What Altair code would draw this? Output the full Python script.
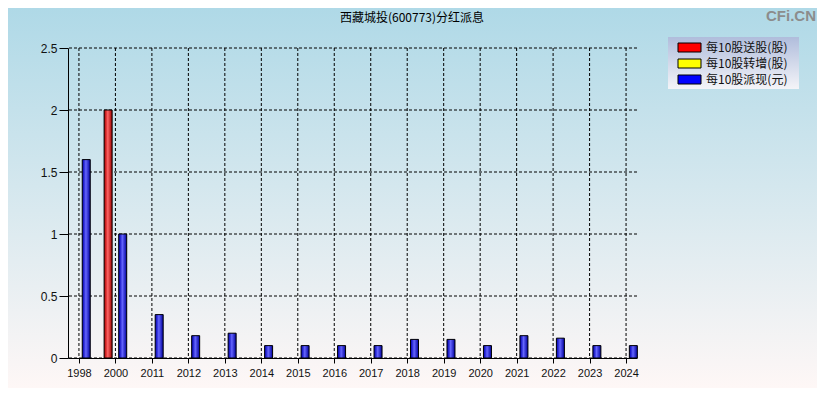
import json
import altair as alt
import pandas as pd

# ---------------- data ----------------
years = ["1998", "2000", "2011", "2012", "2013", "2014", "2015", "2016",
         "2017", "2018", "2019", "2020", "2021", "2022", "2023", "2024"]
song = [0, 2.0, 0, 0, 0, 0, 0, 0, 0, 0, 0, 0, 0, 0, 0, 0]          # 每10股送股
zhuan = [0, 0, 0, 0, 0, 0, 0, 0, 0, 0, 0, 0, 0, 0, 0, 0]           # 每10股转增
pai = [1.6, 1.0, 0.35, 0.18, 0.2, 0.1, 0.1, 0.1,
       0.1, 0.15, 0.15, 0.1, 0.18, 0.16, 0.1, 0.1]                 # 每10股派现
series_names = ["每10股送股(股)", "每10股转增(股)", "每10股派现(元)"]
series_colors = ["#ff0000", "#ffff00", "#0000ff"]
y_ticks = [0, 0.5, 1, 1.5, 2, 2.5]
title_text = "西藏城投(600773)分红派息"
watermark = "CFi.CN"

rows = []
for i, yr in enumerate(years):
    for k, (name, vals) in enumerate(zip(series_names, [song, zhuan, pai])):
        rows.append({"i": i, "year": yr, "k": k, "series": name, "value": vals[i]})
df = pd.DataFrame(rows)
grid_x = pd.DataFrame({"i": list(range(len(years)))})
grid_y = pd.DataFrame({"v": y_ticks})
one = pd.DataFrame({"a": [0]})

W, H = 569, 310
LABEL_FONT = "Liberation Sans"
CJK = "Noto Sans CJK SC"

x_scale = alt.Scale(domain=[-0.3, len(years) - 0.7], nice=False, zero=False, padding=0)
y_scale = alt.Scale(domain=[0, 2.5], nice=False, padding=0)
x_axis = alt.Axis(values=list(range(len(years))),
                  labelExpr=json.dumps(years) + "[datum.value]",
                  grid=False, title=None, tickSize=5, tickColor="black",
                  domainColor="black", labelFont=LABEL_FONT, labelFontSize=11,
                  labelColor="#111", labelPadding=4, zindex=1)
y_axis = alt.Axis(values=y_ticks, labelExpr="format(datum.value, '~g')",
                  grid=False, title=None, tickSize=9, tickColor="black",
                  domainColor="black", labelFont=LABEL_FONT, labelFontSize=12,
                  labelColor="#111", labelPadding=2, zindex=1)

bg = alt.Chart(one).mark_rect(
    fill=alt.Gradient(gradient="linear", x1=0, x2=0, y1=0, y2=1,
                      stops=[alt.GradientStop(color="#afd9e7", offset=0),
                             alt.GradientStop(color="#fef7f6", offset=1)])
).encode(x=alt.value(-60), x2=alt.value(749), y=alt.value(-40), y2=alt.value(340))

legend_box = alt.Chart(one).mark_rect(
    fill=alt.Gradient(gradient="linear", x1=0, x2=0, y1=0, y2=1,
                      stops=[alt.GradientStop(color="#b0bddc", offset=0),
                             alt.GradientStop(color="#f4f4f8", offset=1)])
).encode(x=alt.value(600), x2=alt.value(731), y=alt.value(-11), y2=alt.value(41))

wm = alt.Chart(one).mark_text(
    text=watermark, align="right", baseline="top", font=LABEL_FONT,
    fontSize=15, fontWeight="bold", color="#8c8c8c"
).encode(x=alt.value(748), y=alt.value(-39))

title = alt.Chart(one).mark_text(
    text=title_text, align="center", baseline="middle", font=CJK,
    fontSize=12, color="black"
).encode(x=alt.value(344), y=alt.value(-30))

vgrid = alt.Chart(grid_x).mark_rule(color="black", strokeDash=[3, 2], strokeWidth=1).encode(
    x=alt.X("i:Q", scale=x_scale, axis=x_axis))
hgrid = alt.Chart(grid_y).mark_rule(color="black", strokeDash=[3, 2], strokeWidth=1).encode(
    y=alt.Y("v:Q", scale=y_scale, axis=y_axis))

base = alt.Chart(df).transform_filter("datum.value > 0").transform_calculate(
    xpos="datum.i + (datum.k - 1) * 0.2")

bars = base.mark_bar(size=8, strokeWidth=0).encode(
    x=alt.X("xpos:Q", scale=x_scale, axis=x_axis),
    y=alt.Y("value:Q", scale=y_scale, axis=y_axis),
    color=alt.Color("series:N",
                    scale=alt.Scale(domain=series_names, range=series_colors),
                    legend=alt.Legend(title=None, orient="none", legendX=615.5, legendY=-6.5,
                                      symbolType="M-2.3,-0.9H2.3V0.9H-2.3Z", symbolSize=100,
                                      symbolStrokeColor="black", symbolStrokeWidth=1,
                                      symbolOpacity=1, labelFont=CJK, labelFontSize=12,
                                      labelColor="#111", labelOffset=10.5, rowPadding=2,
                                      padding=0)),
)

shade = base.mark_bar(
    size=8, stroke="black", strokeWidth=1,
    fill=alt.Gradient(gradient="linear", x1=0, x2=1, y1=0, y2=0,
                      stops=[alt.GradientStop(color="rgba(0,0,0,0.28)", offset=0),
                             alt.GradientStop(color="rgba(255,255,255,0.4)", offset=0.45),
                             alt.GradientStop(color="rgba(0,0,0,0.38)", offset=1)])
).encode(
    x=alt.X("xpos:Q", scale=x_scale, axis=x_axis),
    y=alt.Y("value:Q", scale=y_scale, axis=y_axis),
)

chart = alt.layer(bg, legend_box, wm, title, vgrid, hgrid, bars, shade).properties(
    width=W, height=H,
    autosize=alt.AutoSizeParams(type="none"),
    padding={"left": 60, "top": 40, "right": 180, "bottom": 30},
).configure_view(strokeWidth=0).configure(background="#ffffff")

chart.save("out.html", embed_options={"renderer": "svg", "actions": False})
